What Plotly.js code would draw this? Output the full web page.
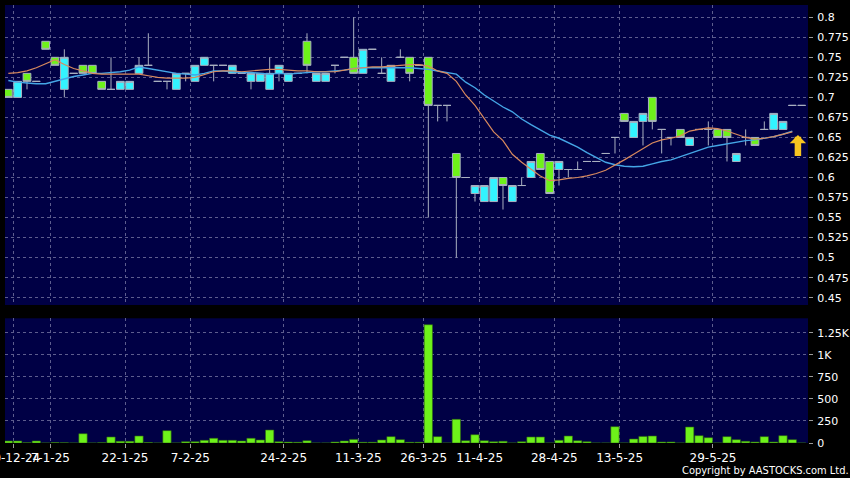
<!DOCTYPE html>
<html>
<head>
<meta charset="utf-8">
<script src="https://cdn.plot.ly/plotly-3.0.1.min.js"></script>
<style>
html,body{margin:0;padding:0;background:#000;}
#chart{width:850px;height:478px;}
</style>
</head>
<body>
<div id="chart"></div>
<script>
// ---- data (one entry per trading bar) ----
const openP  = [0.71,0.70,0.73,0.72,0.77,0.75,0.71,0.73,0.74,0.74,0.72,0.71,0.71,0.71,0.73,0.74,0.72,0.72,0.71,0.73,
                0.72,0.74,0.74,0.74,0.73,0.73,0.72,0.72,0.71,0.73,0.72,0.73,0.77,0.72,0.72,0.74,0.75,0.75,0.73,0.76,
                0.73,0.72,0.75,0.75,0.74,0.75,0.69,0.69,0.63,0.60,0.58,0.57,0.57,0.60,0.57,0.59,0.60,0.63,0.62,0.61,
                0.61,0.61,0.62,0.62,0.63,0.65,0.68,0.65,0.67,0.70,0.66,0.65,0.66,0.64,0.66,0.66,0.66,0.66,0.62,0.65,
                0.65,0.66,0.66,0.66,0.69,0.69];
const highP  = [0.71,0.72,0.73,0.72,0.77,0.75,0.76,0.73,0.74,0.74,0.72,0.75,0.72,0.72,0.75,0.78,0.72,0.72,0.73,0.73,
                0.74,0.75,0.74,0.74,0.74,0.73,0.73,0.73,0.75,0.74,0.73,0.73,0.78,0.73,0.73,0.74,0.75,0.80,0.76,0.76,
                0.75,0.74,0.76,0.75,0.74,0.75,0.69,0.69,0.63,0.60,0.59,0.59,0.60,0.60,0.59,0.60,0.62,0.63,0.62,0.62,
                0.61,0.62,0.62,0.62,0.63,0.65,0.68,0.67,0.68,0.70,0.66,0.65,0.66,0.65,0.66,0.67,0.66,0.66,0.63,0.66,
                0.65,0.67,0.68,0.67,0.69,0.69];
const lowP   = [0.70,0.70,0.71,0.72,0.76,0.74,0.70,0.73,0.73,0.73,0.71,0.71,0.71,0.71,0.73,0.74,0.72,0.71,0.71,0.72,
                0.72,0.74,0.72,0.74,0.73,0.73,0.71,0.72,0.71,0.72,0.72,0.73,0.73,0.72,0.72,0.73,0.75,0.73,0.73,0.76,
                0.73,0.72,0.75,0.72,0.74,0.55,0.67,0.67,0.50,0.60,0.57,0.57,0.57,0.56,0.57,0.59,0.60,0.61,0.58,0.59,
                0.60,0.61,0.62,0.62,0.63,0.63,0.67,0.65,0.64,0.66,0.63,0.64,0.65,0.64,0.66,0.64,0.65,0.62,0.62,0.64,
                0.64,0.66,0.66,0.66,0.69,0.69];
const closeP = [0.70,0.72,0.72,0.72,0.76,0.74,0.75,0.73,0.73,0.73,0.71,0.71,0.72,0.72,0.74,0.74,0.72,0.72,0.73,0.73,
                0.74,0.75,0.74,0.74,0.74,0.73,0.73,0.73,0.73,0.74,0.73,0.73,0.74,0.73,0.73,0.74,0.75,0.73,0.76,0.76,
                0.73,0.74,0.75,0.73,0.74,0.69,0.69,0.69,0.60,0.60,0.59,0.59,0.60,0.59,0.59,0.59,0.62,0.61,0.58,0.62,
                0.61,0.61,0.62,0.62,0.63,0.65,0.67,0.67,0.68,0.67,0.66,0.65,0.65,0.65,0.66,0.66,0.65,0.65,0.63,0.65,
                0.64,0.66,0.68,0.67,0.69,0.69];
const volume = [23,23,3,23,0,5,3,0,105,0,3,68,19,19,79,6,0,140,0,15,
                15,30,53,30,30,23,53,34,147,15,10,8,26,0,0,11,23,41,8,8,
                34,72,38,8,8,1340,72,0,268,26,94,26,15,19,0,15,68,68,0,30,
                79,26,15,0,0,185,0,45,75,79,11,11,0,181,83,60,0,72,38,19,
                11,72,11,83,38,0];
const maShort = [0.730,0.731,0.733,0.737,0.742,0.747,0.741,0.736,0.733,0.730,0.729,0.729,0.729,0.729,0.729,0.727,0.725,0.724,0.724,0.724,
                 0.725,0.729,0.732,0.733,0.733,0.732,0.733,0.734,0.735,0.735,0.734,0.733,0.733,0.732,0.732,0.732,0.734,0.736,0.737,0.738,
                 0.738,0.739,0.740,0.741,0.741,0.739,0.733,0.730,0.720,0.703,0.690,0.673,0.657,0.646,0.629,0.619,0.611,0.602,0.596,0.597,
                 0.599,0.600,0.602,0.605,0.609,0.615,0.622,0.629,0.636,0.643,0.647,0.649,0.652,0.658,0.660,0.662,0.661,0.658,0.654,0.650,
                 0.648,0.649,0.651,0.654,0.657];
const maLong  = [0.721,0.719,0.718,0.717,0.717,0.720,0.723,0.726,0.728,0.730,0.730,0.731,0.732,0.734,0.738,0.736,0.734,0.732,0.730,0.729,
                 0.728,0.730,0.733,0.733,0.732,0.731,0.731,0.730,0.729,0.730,0.729,0.730,0.731,0.732,0.732,0.733,0.734,0.736,0.737,0.737,
                 0.737,0.737,0.737,0.737,0.736,0.735,0.733,0.731,0.729,0.719,0.712,0.703,0.695,0.688,0.682,0.673,0.666,0.660,0.653,0.649,
                 0.644,0.638,0.631,0.625,0.619,0.616,0.614,0.6135,0.614,0.617,0.620,0.622,0.626,0.630,0.634,0.638,0.640,0.642,0.644,0.646,
                 0.647,0.649,0.651,0.654,0.658];
const dateTickAt    = [0.5, 4.5, 12.5, 19.5, 29.5, 37.5, 44.5, 50.5, 58.5, 65.5, 75.5];
const dateTickLabel = ['30-12-24','7-1-25','22-1-25','7-2-25','24-2-25','11-3-25','26-3-25','11-4-25','28-4-25','13-5-25','29-5-25'];
const priceTicks    = [0.45,0.475,0.5,0.525,0.55,0.575,0.6,0.625,0.65,0.675,0.7,0.725,0.75,0.775,0.8];
const priceTickText = ['0.45','0.475','0.5','0.525','0.55','0.575','0.6','0.625','0.65','0.675','0.7','0.725','0.75','0.775','0.8'];
const volTicks      = [0, 250, 500, 750, 1000, 1250];
const volTickText   = ['0','250','500','750','1K','1.25K'];

// ---- build ----
const bar = openP.map((_, i) => i);
const maBar = maShort.map((_, i) => i);

const GRID = '#5d5d8e';
const TXT = '#ffffff';
const FONT = 'DejaVu Sans, sans-serif';

const candles = {
  type: 'candlestick', x: bar, open: openP, high: highP, low: lowP, close: closeP,
  xaxis: 'x', yaxis: 'y',
  increasing: {fillcolor: '#33f3ff', line: {color: '#a9b0c0', width: 1}},
  decreasing: {fillcolor: '#6ef21a', line: {color: '#a9b0c0', width: 1}},
  whiskerwidth: 0, hoverinfo: 'skip', showlegend: false
};
const lineShort = {type: 'scatter', mode: 'lines', x: maBar, y: maShort, xaxis: 'x', yaxis: 'y',
  line: {color: '#d98a5e', width: 1.2}, hoverinfo: 'skip', showlegend: false};
const lineLong = {type: 'scatter', mode: 'lines', x: maBar, y: maLong, xaxis: 'x', yaxis: 'y',
  line: {color: '#45a6e6', width: 1.4}, hoverinfo: 'skip', showlegend: false};
const vol = {type: 'bar', x: bar, y: volume, xaxis: 'x2', yaxis: 'y2',
  marker: {color: '#6ef21a', line: {color: '#2f6a10', width: 0.6}}, hoverinfo: 'skip', showlegend: false};

const last = bar[bar.length - 1];
const layout = {
  width: 850, height: 478,
  margin: {l: 5, r: 42, t: 5, b: 35, pad: 0},
  paper_bgcolor: '#000000', plot_bgcolor: '#000045',
  font: {family: FONT, color: TXT, size: 11},
  showlegend: false,
  boxgap: 0.1, boxgroupgap: 0.08,
  bargap: 0.11,
  xaxis: {domain: [0, 1], anchor: 'y', range: [-0.357, 85.68], rangeslider: {visible: false},
    tickvals: dateTickAt, showticklabels: false, ticks: '', showgrid: true, gridcolor: GRID,
    griddash: 'dot', gridwidth: 1, zeroline: false, showline: false, fixedrange: true},
  xaxis2: {domain: [0, 1], anchor: 'y2', matches: 'x', range: [-0.357, 85.68],
    tickvals: dateTickAt, ticktext: dateTickLabel, ticks: 'outside', ticklen: 4, tickcolor: '#9a9a9a',
    tickangle: 0, tickfont: {family: FONT, size: 12, color: TXT}, ticklabeloverflow: 'allow',
    ticklabelstandoff: 0,
    showgrid: true, gridcolor: GRID, griddash: 'dot', zeroline: false, showline: false},
  yaxis: {domain: [0.3151, 1], anchor: 'x', side: 'right', range: [0.4409, 0.8153],
    tickvals: priceTicks, ticktext: priceTickText, ticks: 'outside', ticklen: 4, tickcolor: '#9a9a9a',
    tickfont: {family: FONT, size: 11, color: TXT}, ticklabelstandoff: 2,
    showgrid: true, gridcolor: GRID, griddash: 'dot', zeroline: false, showline: false},
  yaxis2: {domain: [0, 0.2847], anchor: 'x2', side: 'right', range: [0, 1413],
    tickvals: volTicks, ticktext: volTickText, ticks: 'outside', ticklen: 4, tickcolor: '#9a9a9a',
    tickfont: {family: FONT, size: 11, color: TXT}, ticklabelstandoff: 2,
    showgrid: true, gridcolor: GRID, griddash: 'dot', zeroline: false, showline: false},
  annotations: [
    {x: last - 0.4, y: 0.653, xref: 'x', yref: 'y', ax: last - 0.4, ay: 0.625, axref: 'x', ayref: 'y',
     showarrow: true, arrowhead: 1, arrowsize: 0.42, arrowwidth: 6.5, arrowcolor: '#f7c520', text: ''},
    {x: 1, y: 0, xref: 'paper', yref: 'paper', xanchor: 'right', yanchor: 'top', yshift: -20, xshift: 42,
     borderpad: 0,
     text: 'Copyright by AASTOCKS.com Ltd.', showarrow: false,
     font: {family: 'DejaVu Sans Condensed, Liberation Sans, sans-serif', size: 11, color: TXT}}
  ]
};

Plotly.newPlot('chart', [vol, candles, lineLong, lineShort], layout, {staticPlot: true, displayModeBar: false});
</script>
</body>
</html>
